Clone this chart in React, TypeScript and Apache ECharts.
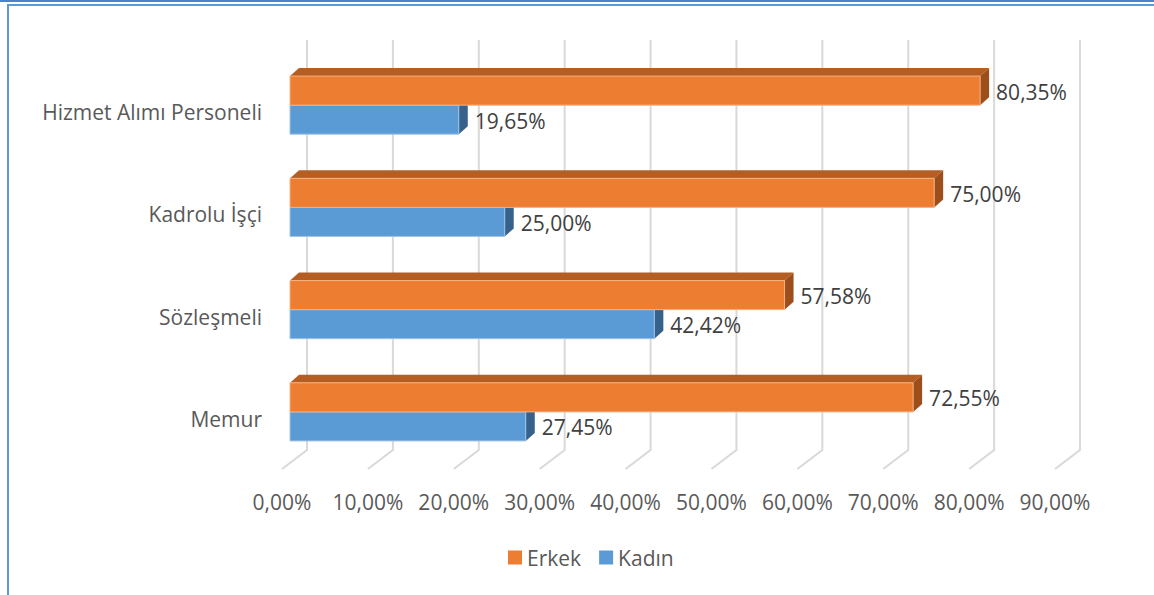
import React, { useEffect, useRef } from "react";
import * as echarts from "echarts";

const categories = ["Hizmet Alımı Personeli", "Kadrolu İşçi", "Sözleşmeli", "Memur"];
const erkek = [80.35, 75.0, 57.58, 72.55];
const kadin = [19.65, 25.0, 42.42, 27.45];
const xTicks = [0, 10, 20, 30, 40, 50, 60, 70, 80, 90];
const seriesNames = ["Erkek", "Kadın"];

const FONT = "'Open Sans', 'Noto Sans', sans-serif";
const fmt = (v: number) => v.toFixed(2).replace(".", ",") + "%";

const DX = 9;
const DY = -8;

function makeBarRender(isTop: boolean, front: string, top: string, side: string, stroke: string) {
  return (params: any, api: any) => {
    const cat = api.value(0);
    const val = api.value(1);
    const p0 = api.coord([0, cat]);
    const p1 = api.coord([val, cat]);
    const band = api.size([0, 1])[1];
    const h = band * 0.284;
    const cy = p0[1];
    const y0 = isTop ? cy - h : cy;
    const y1 = y0 + h;
    const x0 = p0[0];
    const x1 = p1[0];
    const children: any[] = [];
    if (isTop) {
      children.push({
        type: "polygon",
        shape: { points: [[x0, y0], [x0 + DX, y0 + DY], [x1 + DX, y0 + DY], [x1, y0]] },
        style: { fill: top },
      });
    }
    children.push({
      type: "polygon",
      shape: { points: [[x1, y0], [x1 + DX, y0 + DY], [x1 + DX, y1 + DY], [x1, y1]] },
      style: { fill: side },
    });
    children.push({
      type: "rect",
      shape: { x: x0, y: y0, width: x1 - x0, height: h },
      style: { fill: front, stroke: stroke, lineWidth: 1 },
    });
    children.push({
      type: "text",
      x: x1 + 16,
      y: (y0 + y1) / 2 + 1,
      style: {
        text: fmt(val),
        fontSize: 21,
        fontFamily: FONT,
        fill: "#404040",
        align: "left",
        verticalAlign: "middle",
      },
    });
    return { type: "group", children };
  };
}

function wallRender(params: any, api: any) {
  const v = api.value(0);
  const cs = params.coordSys;
  const x = api.coord([v, 0])[0];
  const top = cs.y;
  const bottom = cs.y + cs.height;
  return {
    type: "polyline",
    shape: {
      points: [
        [x + 17, top - 14],
        [x + 17, bottom - 13],
        [x - 8, bottom + 6],
      ],
    },
    style: { stroke: "#d9d9d9", lineWidth: 2, fill: "none" },
  };
}

export default function App() {
  const ref = useRef<HTMLDivElement>(null);
  useEffect(() => {
    if (!ref.current) return;
    const chart = echarts.init(ref.current, null, { renderer: "svg" });
    const option: any = {
      animation: false,
      backgroundColor: "#ffffff",
      textStyle: { fontFamily: FONT },
      grid: { left: 290, right: 91, top: 54, bottom: 132, containLabel: false },
      xAxis: {
        type: "value",
        min: 0,
        max: 90,
        interval: 10,
        axisLine: { show: false },
        axisTick: { show: false },
        splitLine: { show: false },
        axisLabel: {
          formatter: (v: number) => fmt(v),
          fontSize: 21,
          fontFamily: FONT,
          color: "#595959",
          margin: 28,
          padding: [0, 16, 0, 0],
        },
      },
      yAxis: {
        type: "category",
        data: categories,
        inverse: true,
        axisLine: { show: false },
        axisTick: { show: false },
        splitLine: { show: false },
        axisLabel: {
          fontSize: 21,
          fontFamily: FONT,
          color: "#595959",
          margin: 28,
          verticalAlign: "top",
          lineHeight: 14,
        },
      },
      legend: {
        data: [
          { name: seriesNames[0], icon: "rect", itemStyle: { color: "#ED7D31" } },
          { name: seriesNames[1], icon: "rect", itemStyle: { color: "#5B9BD5" } },
        ],
        left: 503,
        top: 542,
        itemWidth: 14,
        itemHeight: 14,
        itemGap: 18,
        selectedMode: false,
        textStyle: { fontSize: 21, fontFamily: FONT, color: "#595959" },
      },
      graphic: [
        { type: "rect", shape: { x: 0, y: 0, width: 1154, height: 2 }, style: { fill: "#4a84c8" }, z: 100 },
        { type: "rect", shape: { x: 7, y: 4, width: 1147, height: 2 }, style: { fill: "#5b9bd5" }, z: 100 },
        { type: "rect", shape: { x: 7, y: 4, width: 2, height: 591 }, style: { fill: "#5b9bd5" }, z: 100 },
      ],
      series: [
        {
          type: "custom",
          name: "walls",
          renderItem: wallRender,
          data: xTicks.map((t) => [t, 0]),
          encode: { x: 0, y: 1 },
          silent: true,
          z: 1,
        },
        {
          type: "custom",
          name: seriesNames[1],
          renderItem: makeBarRender(false, "#5B9BD5", "#4a7fb0", "#36618a", "#9dc3e6"),
          data: kadin.map((v, i) => [i, v]),
          encode: { y: 0, x: 1 },
          itemStyle: { color: "#5B9BD5" },
          z: 2,
        },
        {
          type: "custom",
          name: seriesNames[0],
          renderItem: makeBarRender(true, "#ED7D31", "#b55e24", "#9c4f1b", "#f4b183"),
          data: erkek.map((v, i) => [i, v]),
          encode: { y: 0, x: 1 },
          itemStyle: { color: "#ED7D31" },
          z: 3,
        },
      ],
    };
    chart.setOption(option);
    return () => chart.dispose();
  }, []);
  return (
    <div
      ref={ref}
      style={{ position: "absolute", left: 0, top: 0, width: 1154, height: 595 }}
    />
  );
}
